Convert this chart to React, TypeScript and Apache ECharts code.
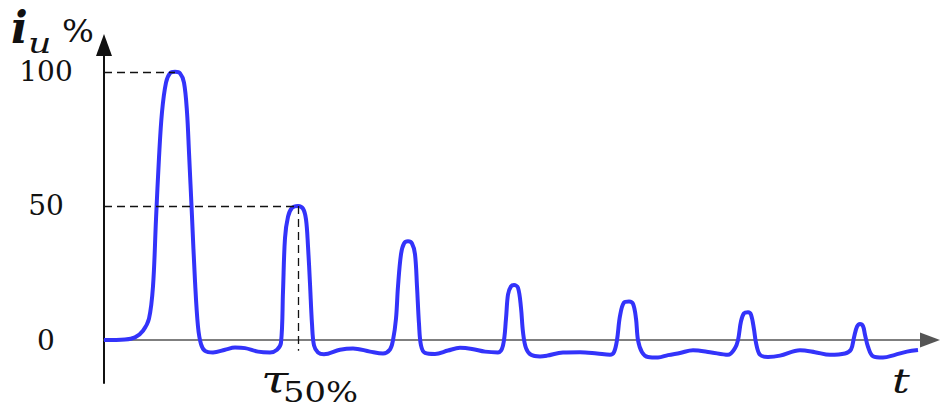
import React, { useEffect, useRef } from "react";
import * as echarts from "echarts";

// [time (arbitrary units), current i_u (%)]
const pulse1: [number, number][] = [
  [0, 0], [21, 0.2], [31, 1], [39, 3.5], [45, 8], [49, 20], [52, 45], [55, 68], [58, 85], [62, 96],
  [66, 99.5], [71, 100], [76, 99.5], [80, 96], [83, 85], [85, 70], [88, 46], [91, 22], [94, 5], [97, -1.5],
  [101, -4], [109, -4.6], [121, -3.6], [131, -2.8], [141, -3], [154, -4.3], [166, -4.6], [173, -3.6],
];
const pulse2: [number, number][] = [
  [177, -1], [179, 18], [181, 38], [184, 46], [188, 49.3], [194, 50], [199, 49], [202, 45], [204, 35],
  [206, 21], [208, 6], [210, -2], [214, -4.6], [220, -5.3], [236, -3.6], [249, -3.1], [266, -4.3],
  [279, -5], [286, -3.5],
];
const pulse3: [number, number][] = [
  [289, 0], [292, 8], [294, 20], [297, 32], [300, 36], [304, 36.8], [308, 36], [311, 32], [313, 20],
  [315, 6], [317, -2], [321, -4.8], [331, -5.2], [344, -3.9], [356, -2.9], [368, -3.3], [381, -4.3],
  [394, -4.6],
];
const pulse4: [number, number][] = [
  [399, -2], [402, 8], [404, 17], [407, 20], [410, 20.5], [414, 19.5], [417, 12], [419, 3], [422, -3],
  [427, -5.5], [436, -6.1], [443, -5.8], [459, -4.6], [476, -4.5], [493, -5], [506, -5.5],
];
const pulse5: [number, number][] = [
  [510, -4.5], [513, 0], [516, 9], [520, 14], [525, 14.4], [529, 13.5], [532, 8], [534, 0], [538, -4.5],
  [544, -6.3], [554, -6.5], [564, -5.6], [576, -4.8], [589, -3.8], [606, -4.5], [624, -5.5],
];
const pulse6: [number, number][] = [
  [631, -3], [634, 0], [637, 7], [640, 10], [644, 10.4], [647, 9.5], [650, 4], [652, -1], [656, -5.5],
  [664, -6.3], [676, -5.8], [696, -3.8], [711, -4.5], [726, -5.5], [741, -5],
];
const pulse7: [number, number][] = [
  [747, -3.5], [750, 1], [753, 5], [756, 6], [759, 5.2], [761, 2], [764, -2.5], [769, -6], [779, -6.5],
  [791, -5.5], [803, -4.3], [814, -3.7],
];
const yTickValues = [0, 50, 100];
const peakFull = { t: 71, i: 100 };
const peakHalf = { t: 194, i: 50 };
const dashBottom = -4;

export default function App() {
  const ref = useRef<HTMLDivElement>(null);

  useEffect(() => {
    if (!ref.current) return;
    const chart = echarts.init(ref.current, null, { renderer: "svg" });
    const data = [...pulse1, ...pulse2, ...pulse3, ...pulse4, ...pulse5, ...pulse6, ...pulse7];
    const serif = "DejaVu Serif";
    const txt = (
      text: string,
      x: number,
      y: number,
      size: number,
      sx: number,
      style = "normal",
      weight = "normal"
    ) => ({
      type: "text",
      x,
      y,
      scaleX: sx,
      style: {
        text,
        fontFamily: serif,
        fontSize: size,
        fontStyle: style,
        fontWeight: weight,
        fill: "#111",
        verticalAlign: "middle",
      },
    });

    chart.setOption({
      animation: false,
      grid: { left: 104, right: 11, top: 45, bottom: 27, containLabel: false },
      xAxis: {
        type: "value",
        min: 0,
        max: 826,
        axisLine: {
          show: true,
          onZero: true,
          symbol: ["none", "triangle"],
          symbolSize: [15, 20],
          lineStyle: { color: "#555", width: 1.5 },
        },
        axisTick: { show: false },
        axisLabel: { show: false },
        splitLine: { show: false },
      },
      yAxis: {
        type: "value",
        min: -16,
        max: 110,
        axisLine: {
          show: true,
          symbol: ["none", "triangle"],
          symbolSize: [16, 22],
          lineStyle: { color: "#111", width: 2 },
        },
        axisTick: { show: false },
        splitLine: { show: false },
        axisLabel: {
          show: true,
          customValues: yTickValues,
          margin: 58,
          align: "center",
          fontFamily: serif,
          fontSize: 28,
          color: "#111",
        },
      },
      series: [
        {
          type: "line",
          data,
          smooth: 0.35,
          showSymbol: false,
          symbol: "none",
          lineStyle: { color: "#3333fa", width: 4 },
          z: 3,
          markLine: {
            silent: true,
            symbol: "none",
            label: { show: false },
            lineStyle: { color: "#111", width: 1.3, type: [8, 5] },
            data: [
              [{ coord: [0, peakFull.i] }, { coord: [peakFull.t, peakFull.i] }],
              [{ coord: [0, peakHalf.i] }, { coord: [peakHalf.t, peakHalf.i] }],
              [{ coord: [peakHalf.t, peakHalf.i] }, { coord: [peakHalf.t, dashBottom] }],
            ],
          },
        },
      ],
      graphic: [
        txt("i", 11, 27, 44, 1.0, "italic", "bold"),
        txt("u", 28, 44, 28, 1.3, "italic"),
        txt("%", 62, 31.5, 32, 1.05),
        txt("τ", 261, 379, 38, 1.3, "italic"),
        txt("50%", 283, 393, 27, 1.25),
        txt("t", 892, 380.5, 34, 1.3, "italic"),
      ],
    });

    return () => chart.dispose();
  }, []);

  return (
    <div
      ref={ref}
      style={{ position: "fixed", left: 0, top: 0, width: 941, height: 410, background: "#fff" }}
    />
  );
}
